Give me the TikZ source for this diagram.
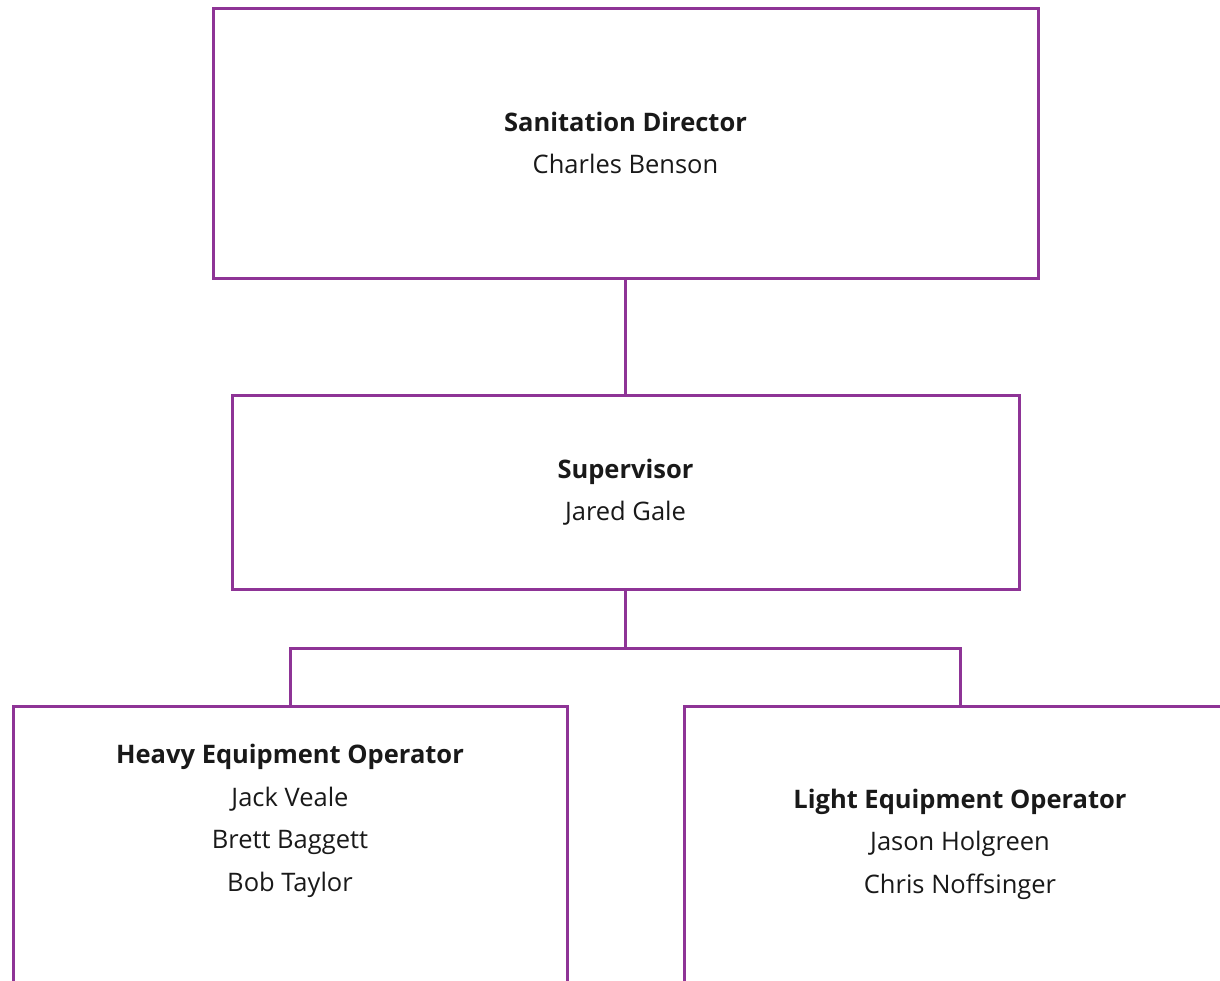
\documentclass[tikz,border=0pt]{standalone}
\usepackage{fontspec}
\setmainfont{Open Sans}
\definecolor{orgline}{HTML}{8E3496}
\begin{document}
\begin{tikzpicture}[x=1pt,y=-1pt,
  box/.style={draw=orgline,line width=3pt,fill=white,inner sep=0pt},
  link/.style={draw=orgline,line width=3pt},
  lbl/.style={align=center,font=\fontsize{25.5}{42.5}\selectfont,text=black!90}]
\useasboundingbox (0,0) rectangle (1220,980);
% boxes
\node[box,minimum width=825pt,minimum height=270pt] (dir) at (625.5,143) {};
\node[box,minimum width=787pt,minimum height=194pt] (sup) at (625.5,492) {};
\node[box,minimum width=554pt,minimum height=278pt,anchor=north] (heavy) at (290,705) {};
\node[box,minimum width=552pt,minimum height=278pt,anchor=north] (light) at (960,705) {};
% connectors
\coordinate (mid) at (625.5,648);
\draw[link] (dir.south) -- (sup.north);
\draw[link] (sup.south) -- (mid);
\draw[link] (heavy.north) -- (heavy.north |- mid) -- (light.north |- mid) -- (light.north);
% labels
\node[lbl] (dirtxt) at (dir.center) {\textbf{Sanitation Director}\\Charles Benson};
\node[lbl] (suptxt) at (sup.center) {\textbf{Supervisor}\\Jared Gale};
\node[lbl] (heavytxt) at (290,821) {\textbf{Heavy Equipment Operator}\\Jack Veale\\Brett Baggett\\Bob Taylor};
\node[lbl] (lighttxt) at (960,844) {\textbf{Light Equipment Operator}\\Jason Holgreen\\Chris Noffsinger};
\end{tikzpicture}
\end{document}
